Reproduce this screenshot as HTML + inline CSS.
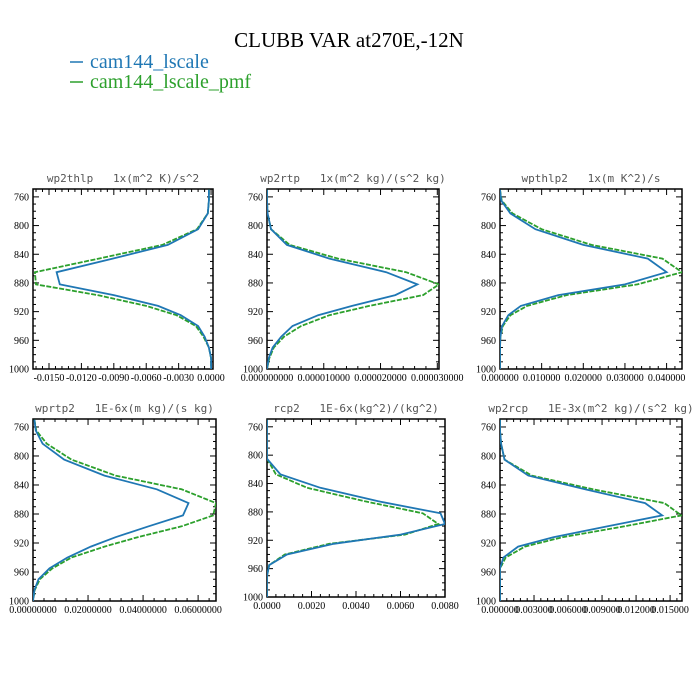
<!DOCTYPE html>
<html><head><meta charset="utf-8"><style>
body{margin:0;background:#fff;width:700px;height:700px;overflow:hidden}
svg{display:block}
.tl{font-family:"Liberation Serif",serif;font-size:10px;fill:#000}
.pt{font-family:"DejaVu Sans Mono","Liberation Mono",monospace;font-size:11px;fill:#555;white-space:pre}
</style></head><body>
<svg id="fig" width="700" height="700" xmlns="http://www.w3.org/2000/svg" xml:space="preserve">
<text x="349" y="47" text-anchor="middle" font-family="Liberation Serif,serif" font-size="21">CLUBB VAR at270E,-12N</text>
<g>
<g><line x1="70" y1="62" x2="83" y2="62" stroke="#1f77b4" stroke-width="1.5"/><text x="90" y="68" font-family="Liberation Serif,serif" font-size="20" fill="#1f77b4">cam144_lscale</text></g>
<g><line x1="70" y1="82" x2="83" y2="82" stroke="#2ca02c" stroke-width="1.5"/><text x="90" y="88" font-family="Liberation Serif,serif" font-size="20" fill="#2ca02c">cam144_lscale_pmf</text></g>
</g>
</svg>
<script>
const levels=[750,765,783,805,827,846,865,882,897,912,925,940,955,970,985,1000];
const titles=["wp2thlp   1x(m^2 K)/s^2","wp2rtp   1x(m^2 kg)/(s^2 kg)","wpthlp2   1x(m K^2)/s","wprtp2   1E-6x(m kg)/(s kg)","rcp2   1E-6x(kg^2)/(kg^2)","wp2rcp   1E-3x(m^2 kg)/(s^2 kg)"];
const blue1=[-0.0002,-0.0002,-0.0003,-0.0012,-0.0040,-0.0091,-0.0143,-0.0140,-0.0090,-0.0049,-0.0028,-0.0012,-0.0006,-0.0002,0,0];
const green1=[-0.0002,-0.0002,-0.0003,-0.0013,-0.0045,-0.0104,-0.0163,-0.0162,-0.0105,-0.0060,-0.0032,-0.0014,-0.0007,-0.0002,0,0];
const blue2=[0,0,0.0000001,0.0000007,0.0000035,0.000011,0.000021,0.0000265,0.0000226,0.000015,0.000009,0.0000045,0.0000025,0.000001,0.0000003,0];
const green2=[0,0,0.0000001,0.0000007,0.000004,0.0000125,0.0000245,0.0000303,0.0000275,0.000018,0.000011,0.000006,0.000003,0.0000012,0.0000004,0];
const blue3=[0,0.0003,0.0025,0.0085,0.020,0.0355,0.040,0.030,0.014,0.005,0.002,0.0005,0.0001,0,0,0];
const green3=[0,0.0004,0.003,0.010,0.022,0.039,0.0437,0.033,0.016,0.0065,0.0025,0.0007,0.0001,0,0,0];
const blue4=[0.0005,0.001,0.0035,0.0113,0.026,0.045,0.0565,0.0545,0.042,0.030,0.021,0.0125,0.006,0.002,0.0005,0];
const green4=[0.0005,0.0012,0.005,0.014,0.030,0.054,0.0665,0.0655,0.054,0.038,0.026,0.014,0.007,0.0025,0.0006,0];
const blue5=[0,0,0,0,0.0006,0.0024,0.0050,0.0078,0.0080,0.0060,0.0030,0.0009,0.0001,0,0,0];
const green5=[0,0,0,0,0.0004,0.0018,0.0044,0.0070,0.0077,0.0062,0.0028,0.0008,0.0001,0,0,0];
const blue6=[0,0,0.0001,0.0004,0.0025,0.0075,0.0128,0.0143,0.0095,0.0047,0.0016,0.0003,0,0,0,0];
const green6=[0,0,0.0001,0.0004,0.0028,0.0082,0.0145,0.0160,0.0110,0.0055,0.0022,0.0005,0,0,0,0];
const ticks1=["-0.0150","-0.0120","-0.0090","-0.0060","-0.0030","0.0000"];
const ticks2=["0.000000000","0.000010000","0.000020000","0.000030000"];
const ticks3=["0.000000","0.010000","0.020000","0.030000","0.040000"];
const ticks4=["0.00000000","0.02000000","0.04000000","0.06000000"];
const ticks5=["0.0000","0.0020","0.0040","0.0060","0.0080"];
const ticks6=["0.000000","0.003000","0.006000","0.009000","0.012000","0.015000"];
const yTicks=[760,800,840,880,920,960,1000];
const panels=[
 {b:blue1,g:green1,t:ticks1,x0:-0.01648,x1:0.00018,L:33,R:213,T:189,B:369,y0:749},
 {b:blue2,g:green2,t:ticks2,x0:0,x1:0.0000303,L:267,R:439,T:189,B:369,y0:749},
 {b:blue3,g:green3,t:ticks3,x0:0,x1:0.0437,L:500,R:682,T:189,B:369,y0:749},
 {b:blue4,g:green4,t:ticks4,x0:0,x1:0.0665,L:33,R:216,T:419,B:601,y0:749},
 {b:blue5,g:green5,t:ticks5,x0:0,x1:0.0080,L:267,R:445,T:419,B:597,y0:749},
 {b:blue6,g:green6,t:ticks6,x0:0,x1:0.01605,L:500,R:682,T:419,B:601,y0:749}];
const NS="http://www.w3.org/2000/svg",svg=document.getElementById('fig');
function mk(tag,at,par){const e=document.createElementNS(NS,tag);for(const k in at)e.setAttribute(k,at[k]);par.appendChild(e);return e;}
panels.forEach((p,i)=>{
 const g=mk('g',{},svg);
 
 
 const xs=v=>p.L+(v-p.x0)/(p.x1-p.x0)*(p.R-p.L);
 const ys=v=>p.T+(v-p.y0)/(1000-p.y0)*(p.B-p.T);
 const tt=mk('text',{x:(p.L+p.R)/2,y:p.T-7,'text-anchor':'middle',class:'pt'},g);
 tt.textContent=titles[i];
 
 
 const fr=mk('rect',{x:p.L,y:p.T,width:p.R-p.L,height:p.B-p.T,fill:'none',stroke:'#000','stroke-width':1.5},g);
 
 
 for(let v=760;v<=1000;v+=10){const y=ys(v),len=(v%40===0)?6:3;
  mk('line',{x1:p.L,x2:p.L+len,y1:y,y2:y,stroke:'#000'},g);mk('line',{x1:p.R,x2:p.R-len,y1:y,y2:y,stroke:'#000'},g);}
 yTicks.forEach(v=>{const t=mk('text',{x:p.L-4,y:ys(v)+3.5,'text-anchor':'end',class:'tl'},g);t.textContent=v;
  
  });
 const vals=p.t.map(Number),step=vals[1]-vals[0];
 for(let k=-5;k<=vals.length*5+5;k++){const v=vals[0]+k*step/5;if(v<Math.min(p.x0,p.x1)-1e-12||v>p.x1+1e-12)continue;
  const x=xs(v),len=(k%5===0)?6:3;
  mk('line',{x1:x,x2:x,y1:p.B,y2:p.B-len,stroke:'#000'},g);mk('line',{x1:x,x2:x,y1:p.T,y2:p.T+len,stroke:'#000'},g);}
 p.t.forEach((s,k)=>{const t=mk('text',{x:xs(vals[k]),y:p.B+12,'text-anchor':'middle',class:'tl'},g);t.textContent=s;
  
  });
 const cp=mk('clipPath',{id:'c'+i},g);mk('rect',{x:p.L,y:p.T,width:p.R-p.L,height:p.B-p.T},cp);
 const pts=a=>a.map((v,k)=>xs(v).toFixed(1)+','+ys(levels[k]).toFixed(1)).join(' ');
 const lg=mk('polyline',{points:pts(p.g),fill:'none',stroke:'#2ca02c','stroke-width':1.8,'stroke-dasharray':'5,1.5','clip-path':'url(#c'+i+')'},g);
 
 
 const lb=mk('polyline',{points:pts(p.b),fill:'none',stroke:'#1f77b4','stroke-width':1.8,'clip-path':'url(#c'+i+')'},g);
 
 
});
</script>
</body></html>
